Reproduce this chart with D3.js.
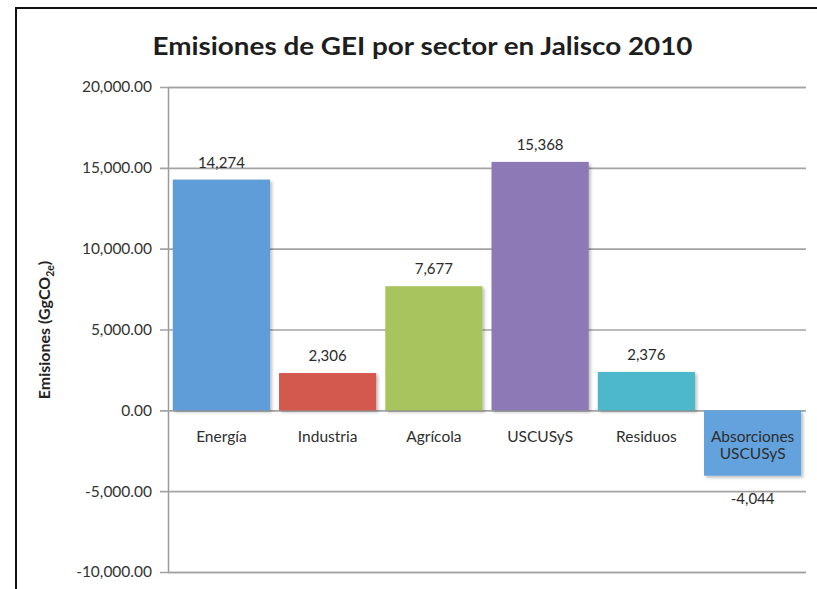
<!DOCTYPE html>
<html>
<head>
<meta charset="utf-8">
<script src="https://cdn.jsdelivr.net/npm/d3@7"></script>
<style>
  html, body { margin: 0; padding: 0; background: #fff; }
  svg { display: block; font-family: Lato, "Open Sans", sans-serif; }
</style>
</head>
<body>
<svg id="chart" width="817" height="589"></svg>
<script>
// Sector emissions, Jalisco 2010 (GgCO2e)
const categories = ["Energía", "Industria", "Agrícola", "USCUSyS", "Residuos", "Absorciones USCUSyS"];
const values = [14274, 2306, 7677, 15368, 2376, -4044];
const barColors = ["#5f9dd8", "#d3584d", "#a8c45f", "#8e79b7", "#4db8cc", "#64a2dc"];
const yTicks = [-10000, -5000, 0, 5000, 10000, 15000, 20000];

const svg = d3.select("#chart");
const W = 817, H = 589;

// number formatting with a plain hyphen for negatives
const locale = d3.formatLocale({ decimal: ".", thousands: ",", grouping: [3], currency: ["$", ""], minus: "-" });
const fmtTick = locale.format(",.2f");
const fmtVal = locale.format(",");

// outer frame (top and left edges visible)
svg.append("rect")
  .attr("x", 16).attr("y", 8)
  .attr("width", W).attr("height", H)
  .attr("fill", "#fff").attr("stroke", "#111").attr("stroke-width", 2);

const defs = svg.append("defs");
const sh = defs.append("filter").attr("id", "shadow")
  .attr("x", "-5%").attr("y", "-5%").attr("width", "115%").attr("height", "115%");
sh.append("feDropShadow").attr("dx", 2).attr("dy", 2).attr("stdDeviation", 1.5)
  .attr("flood-color", "#000").attr("flood-opacity", 0.25);

const plot = { left: 168, right: 806, top: 87, bottom: 572 };

const x = d3.scaleBand()
  .domain(categories)
  .range([plot.left, plot.right])
  .paddingInner(0.085)
  .paddingOuter(0.045);

const y = d3.scaleLinear()
  .domain([-10000, 20000])
  .range([plot.bottom, plot.top]);

// title
svg.append("text")
  .attr("x", 422.5).attr("y", 55)
  .attr("text-anchor", "middle")
  .attr("font-size", 25.5).attr("font-weight", "bold")
  .attr("fill", "#1e1e1e")
  .attr("textLength", 540).attr("lengthAdjust", "spacingAndGlyphs")
  .text("Emisiones de GEI por sector en Jalisco 2010");

// y axis with gridlines
const yAxis = d3.axisLeft(y)
  .tickValues(yTicks)
  .tickSize(-(plot.right - plot.left))
  .tickPadding(16)
  .tickFormat(fmtTick);

const gy = svg.append("g")
  .attr("transform", `translate(${plot.left},0)`)
  .call(yAxis);
gy.select(".domain").attr("stroke", "#9a9a9a").attr("stroke-width", 1.5);
gy.selectAll(".tick line")
  .attr("x1", -8)
  .attr("stroke", "#a3a3a3").attr("stroke-width", 1.7);
gy.selectAll(".tick text")
  .attr("font-size", 15.5).attr("fill", "#333")
  .attr("font-family", "Lato, sans-serif");

// y axis title
const yt = svg.append("text")
  .attr("transform", `translate(50,330) rotate(-90)`)
  .attr("text-anchor", "middle")
  .attr("font-size", 16).attr("font-weight", "bold").attr("fill", "#222");
yt.append("tspan").text("Emisiones (GgCO");
yt.append("tspan").attr("font-size", 10.5).attr("dy", 4).text("2e");
yt.append("tspan").attr("dy", -4).text(")");

// bars
const data = categories.map((c, i) => ({ c, v: values[i], color: barColors[i] }));

svg.append("g").selectAll("rect")
  .data(data)
  .join("rect")
  .attr("x", d => x(d.c))
  .attr("width", x.bandwidth())
  .attr("y", d => y(Math.max(0, d.v)))
  .attr("height", d => Math.abs(y(d.v) - y(0)))
  .attr("fill", d => d.color)
  .attr("filter", "url(#shadow)");

// value labels
svg.append("g").selectAll("text")
  .data(data)
  .join("text")
  .attr("x", d => x(d.c) + x.bandwidth() / 2)
  .attr("y", d => d.v >= 0 ? y(d.v) - 12 : y(d.v) + 28)
  .attr("text-anchor", "middle")
  .attr("font-size", 15).attr("fill", "#2a2a2a")
  .text(d => fmtVal(d.v));

// category labels, placed just below the zero line
const gx = svg.append("g");
data.forEach(d => {
  const words = d.c === "Absorciones USCUSyS" ? ["Absorciones", "USCUSyS"] : [d.c];
  const cx = x(d.c) + x.bandwidth() / 2;
  const t = gx.append("text")
    .attr("x", cx)
    .attr("y", y(0) + 32)
    .attr("text-anchor", "middle")
    .attr("font-size", 15.5).attr("fill", "#2e2e2e");
  words.forEach((w, j) => {
    t.append("tspan")
      .attr("x", cx)
      .attr("dy", j === 0 ? 0 : 17)
      .text(w);
  });
});
</script>
</body>
</html>
